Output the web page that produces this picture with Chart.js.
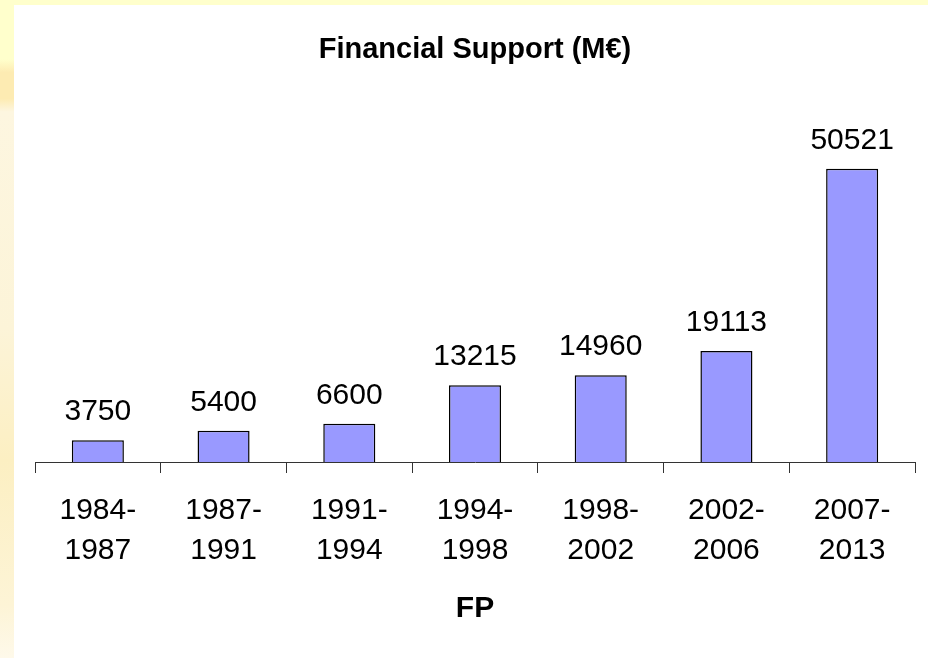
<!DOCTYPE html>
<html>
<head>
<meta charset="utf-8">
<script src="https://cdn.jsdelivr.net/npm/chart.js@4.4.1/dist/chart.umd.min.js"></script>
<style>
  body { margin: 0; background: #fff; }
  #wrap { position: relative; width: 928px; height: 658px; overflow: hidden; background: #ffffcc; }
  #side { position: absolute; left: 0; top: 0; width: 14px; height: 658px;
    background: linear-gradient(to bottom, #ffffcc 0%, #ffffcc 9%, #fdebb2 11%, #fdebb2 15%, #fdf6e0 17%, #fcf4d8 50%, #fcefc2 70%, #fdf4d6 92%, #fef9ea 100%); }
  #panel { position: absolute; left: 14px; top: 5px; right: 0; bottom: 0; background: #fff; }
  #popChart { position: absolute; left: 0; top: 0; }
</style>
</head>
<body>
<div id="wrap">
  <div id="side"></div>
  <div id="panel"></div>
  <canvas id="popChart" width="928" height="658"></canvas>
</div>
<script>
// data
var periods = [['1984-', '1987'], ['1987-', '1991'], ['1991-', '1994'], ['1994-', '1998'], ['1998-', '2002'], ['2002-', '2006'], ['2007-', '2013']];
var support = [3750, 5400, 6600, 13215, 14960, 19113, 50521];
var yMax = 60000;

var fontFam = '"Liberation Sans", Arial, sans-serif';

// value labels on top of the bars
var barLabels = {
  id: 'barLabels',
  afterDatasetsDraw: function (chart) {
    var ctx = chart.ctx;
    var meta = chart.getDatasetMeta(0);
    ctx.save();
    ctx.font = '30px ' + fontFam;
    ctx.fillStyle = '#000';
    ctx.textAlign = 'center';
    ctx.textBaseline = 'alphabetic';
    meta.data.forEach(function (bar, i) {
      ctx.fillText(String(support[i]), bar.x, bar.y - 20);
    });
    ctx.restore();
  }
};

var ctx = document.getElementById('popChart').getContext('2d');
var popChart = new Chart(ctx, {
  type: 'bar',
  data: {
    labels: periods,
    datasets: [{
      label: 'Financial Support (M€)',
      data: support,
      backgroundColor: '#9999ff',
      borderColor: '#000',
      borderWidth: 1.5,
      barPercentage: 0.414,
      categoryPercentage: 1
    }]
  },
  options: {
    responsive: false,
    animation: false,
    layout: { padding: { left: 35, right: 13, top: 0, bottom: 31 } },
    plugins: {
      legend: { display: false },
      tooltip: { enabled: false },
      title: {
        display: true,
        text: 'Financial Support (M€)',
        color: '#000',
        font: { family: fontFam, size: 29, weight: 'bold' },
        padding: { top: 33, bottom: 46 }
      }
    },
    scales: {
      x: {
        grid: { offset: true, drawOnChartArea: false, drawTicks: true, tickLength: 11, color: '#333', lineWidth: 1 },
        border: { display: true, color: '#333', width: 1 },
        ticks: { color: '#000', padding: 18, font: { family: fontFam, size: 30, lineHeight: 40 / 30 }, maxRotation: 0 },
        title: {
          display: true,
          text: 'FP',
          color: '#000',
          font: { family: fontFam, size: 30, weight: 'bold' },
          padding: { top: 2, bottom: 0 }
        }
      },
      y: {
        display: false,
        min: 0,
        max: yMax
      }
    }
  },
  plugins: [barLabels]
});
</script>
</body>
</html>
